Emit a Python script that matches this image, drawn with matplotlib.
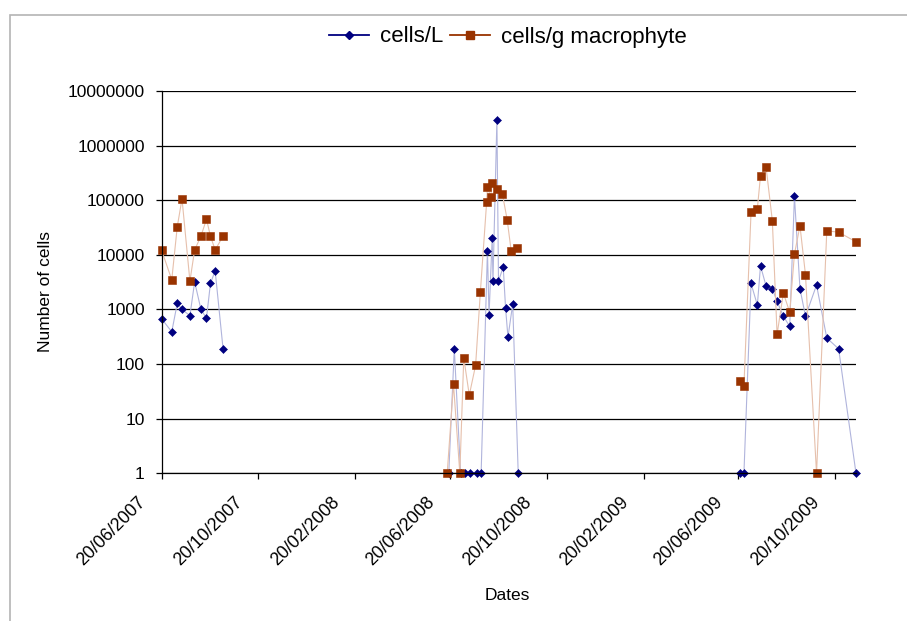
import numpy as np
import pandas as pd
import matplotlib
matplotlib.use("Agg")
import matplotlib.pyplot as plt
import matplotlib.dates as mdates
import matplotlib.transforms as mtransforms
from matplotlib.lines import Line2D
from matplotlib.patches import Rectangle
from matplotlib.ticker import FixedLocator, FuncFormatter, NullLocator

plt.rcParams['font.family'] = ['Liberation Sans', 'DejaVu Sans']

# cells/L (blue diamonds)
cells_l_dates = [
    "2007-06-20", "2007-07-03", "2007-07-10", "2007-07-16", "2007-07-26", "2007-08-01",
    "2007-08-09", "2007-08-16", "2007-08-21", "2007-08-27", "2007-09-06",
    "2008-06-18", "2008-06-25", "2008-07-03", "2008-07-09", "2008-07-15", "2008-07-24",
    "2008-07-29", "2008-08-06", "2008-08-08", "2008-08-12", "2008-08-13", "2008-08-18",
    "2008-08-20", "2008-08-26", "2008-08-29", "2008-09-01", "2008-09-07", "2008-09-14",
    "2009-06-22", "2009-06-27", "2009-07-06", "2009-07-14", "2009-07-18", "2009-07-25",
    "2009-08-02", "2009-08-08", "2009-08-16", "2009-08-24", "2009-08-30", "2009-09-06",
    "2009-09-13", "2009-09-27", "2009-10-10", "2009-10-25", "2009-11-16",
]
cells_l = [
    680, 390, 1300, 1000, 770, 3200, 1000, 690, 3000, 5100, 190,
    1, 190, 1, 1, 1, 1, 1, 12000, 780, 20000, 3300, 3000000, 3300, 6000, 1050, 310, 1250, 1,
    1, 1, 3000, 1200, 6300, 2700, 2400, 1400, 750, 490, 118000, 2400, 750, 2800, 300, 190, 1,
]

# cells/g macrophyte (brown squares)
cells_g_dates = [
    "2007-06-20", "2007-07-03", "2007-07-10", "2007-07-16", "2007-07-26", "2007-08-01",
    "2007-08-09", "2007-08-16", "2007-08-21", "2007-08-27", "2007-09-06",
    "2008-06-16", "2008-06-24", "2008-07-02", "2008-07-07", "2008-07-14", "2008-07-22",
    "2008-07-28", "2008-08-05", "2008-08-06", "2008-08-10", "2008-08-12", "2008-08-18",
    "2008-08-25", "2008-08-31", "2008-09-05", "2008-09-13",
    "2009-06-22", "2009-06-27", "2009-07-06", "2009-07-14", "2009-07-18", "2009-07-25",
    "2009-08-02", "2009-08-08", "2009-08-16", "2009-08-24", "2009-08-30", "2009-09-06",
    "2009-09-13", "2009-09-27", "2009-10-10", "2009-10-25", "2009-11-16",
]
cells_g = [
    12300, 3500, 33000, 106000, 3300, 12300, 22000, 45000, 22000, 12300, 22000,
    1, 43, 1, 130, 27, 95, 2050, 93000, 178000, 115000, 204000, 163000, 129000, 44000, 12000, 13200,
    48, 40, 60000, 70000, 280000, 410000, 42000, 350, 2000, 890, 10300, 34000, 4300, 1, 27500, 26000, 17300,
]

tick_dates = ["2007-06-20", "2007-10-20", "2008-02-20", "2008-06-20",
              "2008-10-20", "2009-02-20", "2009-06-20", "2009-10-20"]
y_ticks = [1, 10, 100, 1000, 10000, 100000, 1000000, 10000000]

blue = "#000080"
brown = "#993300"


def with_gaps(dates, vals, max_gap=100):
    # break the line between sampling seasons
    d = pd.to_datetime(pd.Series(dates))
    v = pd.Series(vals, dtype=float)
    xs, ys = [], []
    for i in range(len(d)):
        if i > 0 and (d[i] - d[i - 1]).days > max_gap:
            xs.append(d[i - 1] + (d[i] - d[i - 1]) / 2)
            ys.append(np.nan)
        xs.append(d[i])
        ys.append(v[i])
    return xs, ys


fig = plt.figure(figsize=(9.07, 6.21), dpi=100)
ax = fig.add_axes([161.5 / 907, 1 - 473.3 / 621, (856 - 161.5) / 907, (473.3 - 91) / 621])

ax.set_yscale('log')
ax.set_ylim(1, 1e7)
ax.set_xlim(pd.Timestamp("2007-06-20"), pd.Timestamp("2009-11-16"))

for y in y_ticks:
    ax.axhline(y, color='black', lw=0.9, zorder=1)

bx, by = with_gaps(cells_l_dates, cells_l)
ax.plot(bx, by, color="#b0b4dc", lw=0.8, zorder=2)
ax.plot(pd.to_datetime(cells_l_dates), cells_l, ls='none', marker='D', ms=4.4,
        mfc=blue, mec=blue, mew=0.4, zorder=3, clip_on=False)

gx, gy = with_gaps(cells_g_dates, cells_g)
ax.plot(gx, gy, color="#e6c0ac", lw=0.8, zorder=4)
ax.plot(pd.to_datetime(cells_g_dates), cells_g, ls='none', marker='s', ms=5.6,
        mfc=brown, mec=brown, mew=0.4, zorder=5, clip_on=False)

ax.xaxis.set_major_locator(FixedLocator(mdates.date2num(pd.to_datetime(tick_dates))))
ax.xaxis.set_major_formatter(mdates.DateFormatter('%d/%m/%Y'))
ax.xaxis.set_minor_locator(NullLocator())
ax.yaxis.set_major_locator(FixedLocator(y_ticks))
ax.yaxis.set_minor_locator(NullLocator())
ax.yaxis.set_major_formatter(FuncFormatter(lambda v, p: f"{int(round(v))}"))

ax.tick_params(axis='x', direction='out', length=4.5, width=0.9, labelsize=12.8, pad=3)
ax.tick_params(axis='y', direction='out', length=4, width=0.9, labelsize=12.5, pad=8)
shift = mtransforms.ScaledTranslation(-12 / 100, -10 / 100, fig.dpi_scale_trans)
for lab in ax.get_xticklabels():
    lab.set_rotation(45)
    lab.set_ha('right')
    lab.set_transform(lab.get_transform() + shift)

for s in ['top', 'right']:
    ax.spines[s].set_visible(False)
for s in ['left', 'bottom']:
    ax.spines[s].set_linewidth(0.9)
    ax.spines[s].set_zorder(6)

fig.text(45 / 907, 1 - 292 / 621, 'Number of cells', rotation=90, ha='center', va='center', fontsize=12.5)
fig.text(507 / 907, 1 - 596 / 621, 'Dates', ha='center', va='center', fontsize=12.5)

handles = [
    Line2D([], [], color=blue, lw=1.3, marker='D', ms=4.4, mfc=blue, mec=blue),
    Line2D([], [], color=brown, lw=1.3, marker='s', ms=5.6, mfc=brown, mec=brown),
]
fig.legend(handles, ['cells/L', 'cells/g macrophyte'], loc='center', ncol=2,
           bbox_to_anchor=(508 / 907, 1 - 37 / 621), frameon=False, fontsize=16,
           handlelength=1.8, handletextpad=0.5, columnspacing=0.3)

fig.patches.append(Rectangle((9.5 / 907, -0.05), 1.2, 1 - 14.5 / 621 + 0.05,
                             transform=fig.transFigure, fill=False,
                             edgecolor='#b4b4b4', lw=1.2))

fig.savefig('out.png', dpi=100)
